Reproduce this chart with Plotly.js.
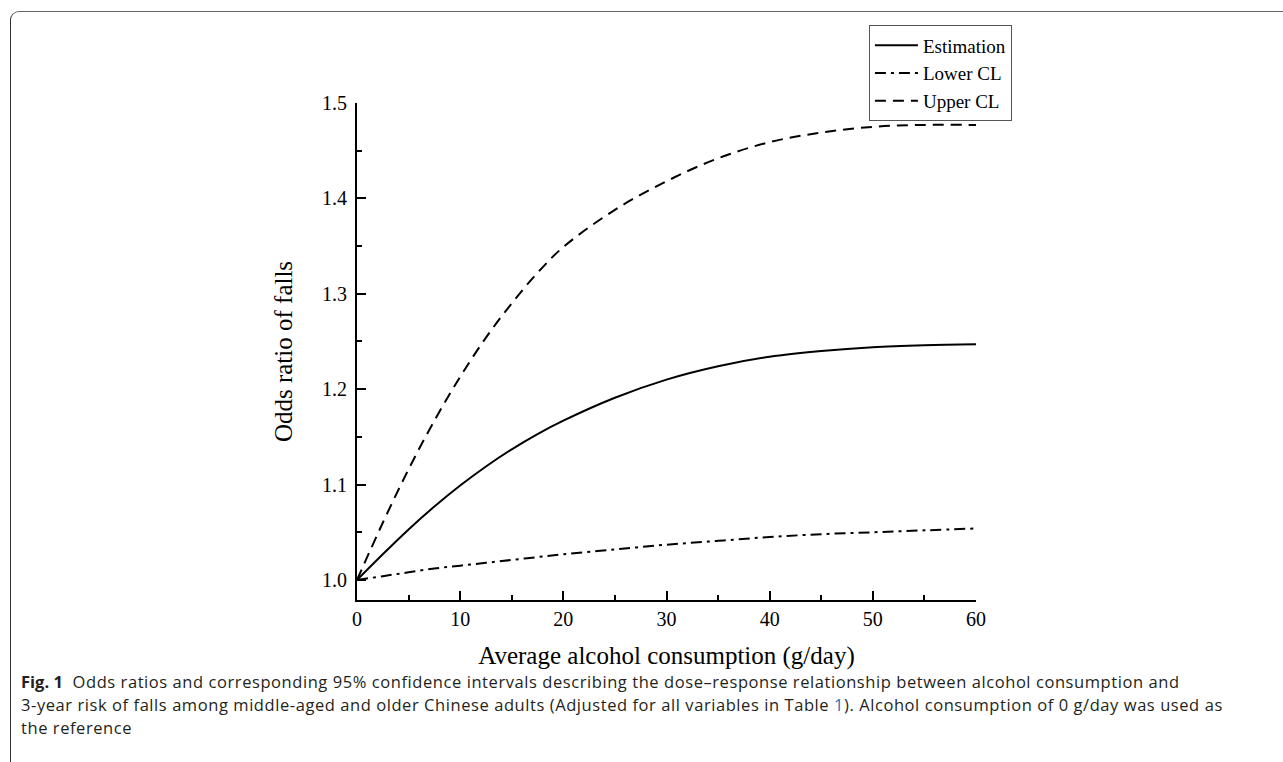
<!DOCTYPE html>
<html>
<head>
<meta charset="utf-8">
<script src="https://cdn.plot.ly/plotly-3.0.1.min.js"></script>
<style>
  html, body { margin:0; padding:0; background:#fff; }
  #wrap { position:relative; width:1283px; height:762px; overflow:hidden; }
  #chart { position:absolute; left:0; top:0; width:1283px; height:762px; }
  #frame { position:absolute; left:10px; top:11px; width:1400px; height:900px;
           border-top:1.5px solid #666; border-left:1.5px solid #333;
           border-top-left-radius:9px; pointer-events:none; }
  #caption { position:absolute; left:21px; top:670px; font-family:"Open Sans", "Noto Sans", sans-serif;
             font-size:16.5px; line-height:23px; color:#231f20; letter-spacing:0.57px; }
  #caption div { white-space:nowrap; height:23px; }
  #caption b { font-weight:700; letter-spacing:0; }
  #caption .ref { color:#2f6db5; }
</style>
</head>
<body>
<div id="wrap">
  <div id="chart"></div>
  <div id="frame"></div>
  <div id="caption">
    <div><b>Fig. 1</b>&nbsp; Odds ratios and corresponding 95% confidence intervals describing the dose–response relationship between alcohol consumption and</div>
    <div>3-year risk of falls among middle-aged and older Chinese adults (Adjusted for all variables in Table <span class="ref">1</span>). Alcohol consumption of 0 g/day was used as</div>
    <div>the reference</div>
  </div>
</div>
<script>
const consumption = [0, 2.5, 5, 7.5, 10, 12.5, 15, 17.5, 20, 25, 30, 35, 40, 45, 50, 55, 60];
const estimation  = [1.000, 1.027, 1.053, 1.077, 1.099, 1.119, 1.137, 1.153, 1.167, 1.191, 1.210, 1.224, 1.234, 1.240, 1.244, 1.246, 1.247];
const lowerCL     = [1.000, 1.004, 1.008, 1.012, 1.015, 1.018, 1.021, 1.024, 1.027, 1.032, 1.037, 1.041, 1.045, 1.048, 1.050, 1.052, 1.054];
const upperCL     = [1.000, 1.060, 1.116, 1.167, 1.213, 1.254, 1.290, 1.322, 1.349, 1.388, 1.418, 1.442, 1.459, 1.469, 1.475, 1.477, 1.477];
const seriesNames = ["Estimation", "Lower CL", "Upper CL"];
const xTickVals = [0, 10, 20, 30, 40, 50, 60];
const yTickVals = [1.0, 1.1, 1.2, 1.3, 1.4, 1.5];

const serif = "'Liberation Serif', 'Times New Roman', serif";

const traces = [
  { x: consumption, y: estimation, name: seriesNames[0], mode: "lines",
    line: { color: "#000", width: 2, shape: "spline", smoothing: 1 } },
  { x: consumption, y: lowerCL, name: seriesNames[1], mode: "lines",
    line: { color: "#000", width: 2, shape: "spline", smoothing: 1, dash: "11px,5px,3px,5px" } },
  { x: consumption, y: upperCL, name: seriesNames[2], mode: "lines",
    line: { color: "#000", width: 2, shape: "spline", smoothing: 1, dash: "11px,7px" } }
];

const layout = {
  width: 1283, height: 762,
  paper_bgcolor: "#fff", plot_bgcolor: "#fff",
  margin: { l: 357, r: 307, t: 103, b: 162, autoexpand: false },
  showlegend: true,
  legend: {
    x: 0.827, y: 1.156, xanchor: "left", yanchor: "top",
    bgcolor: "rgba(255,255,255,0)", bordercolor: "#555", borderwidth: 1,
    font: { family: serif, size: 19, color: "#000" },
    tracegroupgap: 0, itemwidth: 43
  },
  xaxis: {
    range: [0, 60], tickvals: xTickVals, ticktext: xTickVals.map(String),
    showline: true, linecolor: "#000", linewidth: 2,
    ticks: "inside", ticklen: 9, tickwidth: 2, tickcolor: "#000",
    minor: { dtick: 5, tick0: 0, ticks: "inside", ticklen: 5, tickwidth: 2, tickcolor: "#000", showgrid: false },
    showgrid: false, zeroline: false, mirror: false,
    tickfont: { family: serif, size: 20, color: "#000" },
    title: { text: "Average alcohol consumption (g/day)", standoff: 17,
             font: { family: serif, size: 25, color: "#000" } },
    automargin: false
  },
  yaxis: {
    range: [0.979, 1.5], tickvals: yTickVals, ticktext: yTickVals.map(v => v.toFixed(1)),
    showline: true, linecolor: "#000", linewidth: 2,
    ticks: "inside", ticklen: 9, tickwidth: 2, tickcolor: "#000",
    minor: { dtick: 0.05, tick0: 1.0, ticks: "inside", ticklen: 5, tickwidth: 2, tickcolor: "#000", showgrid: false },
    showgrid: false, zeroline: false, mirror: false,
    tickfont: { family: serif, size: 20, color: "#000" },
    ticklabelstandoff: 4,
    title: { text: "Odds ratio of falls", standoff: 22,
             font: { family: serif, size: 25, color: "#000" } },
    automargin: false
  }
};

Plotly.newPlot("chart", traces, layout, { displayModeBar: false, staticPlot: true });
</script>
</body>
</html>
